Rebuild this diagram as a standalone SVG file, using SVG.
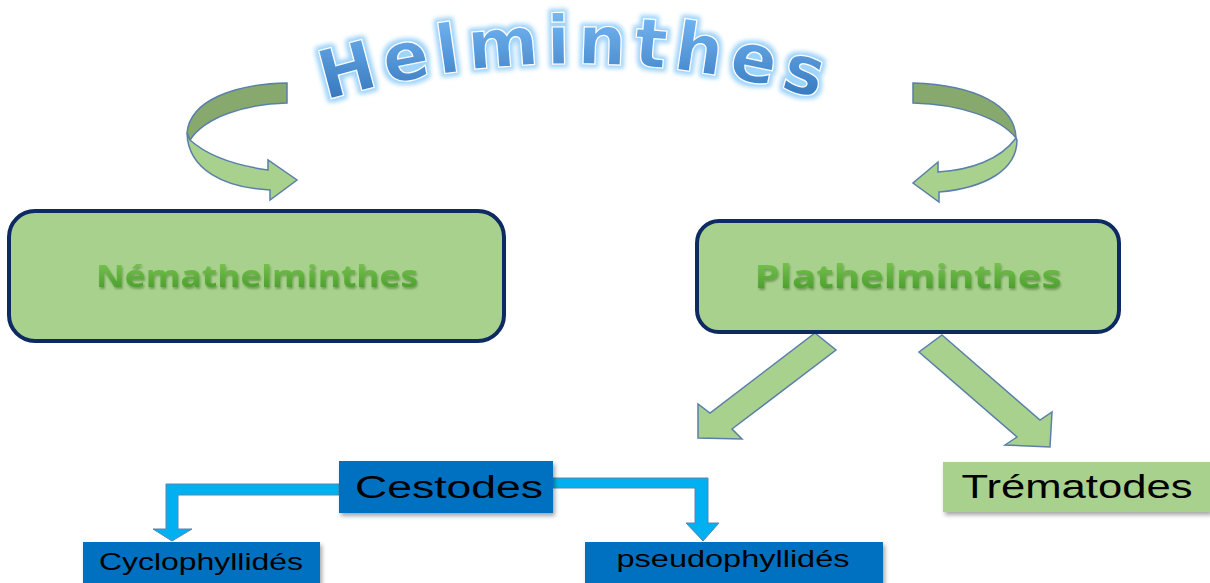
<svg xmlns="http://www.w3.org/2000/svg" width="1210" height="583" viewBox="0 0 1210 583">
<defs>
  <linearGradient id="titleGrad" x1="0" y1="0" x2="0" y2="1">
    <stop offset="0" stop-color="#7ec0fa"/>
    <stop offset="1" stop-color="#2a6cb4"/>
  </linearGradient>
  <linearGradient id="greenText" x1="0" y1="0" x2="0" y2="1">
    <stop offset="0" stop-color="#84cc5a"/>
    <stop offset="1" stop-color="#3f9523"/>
  </linearGradient>
  <filter id="glow" x="-20%" y="-60%" width="140%" height="220%">
    <feMorphology in="SourceAlpha" operator="dilate" radius="3" result="d"/>
    <feGaussianBlur in="d" stdDeviation="2" result="b"/>
    <feFlood flood-color="#9fd4fb" result="c"/>
    <feComposite in="c" in2="b" operator="in" result="g"/>
    <feMerge><feMergeNode in="g"/><feMergeNode in="SourceGraphic"/></feMerge>
  </filter>
  <filter id="shadow" x="-10%" y="-20%" width="125%" height="150%">
    <feDropShadow dx="2" dy="3" stdDeviation="2" flood-color="#000" flood-opacity="0.35"/>
  </filter>
  <filter id="tshadow" x="-5%" y="-20%" width="110%" height="150%">
    <feDropShadow dx="1" dy="2" stdDeviation="1" flood-color="#2d5a18" flood-opacity="0.45"/>
  </filter>
  <path id="arc" d="M 280 116 A 860 860 0 0 1 870 116"/>
</defs>
<style>
  .gbox { fill: #a9d18e; stroke: #0d2a62; stroke-width: 4; }
  .gtxt { font-family: "Open Sans", "Liberation Sans", sans-serif; font-weight: 700; fill: url(#greenText); text-anchor: middle; }
  .bbox { fill: #0070c0; }
  .lbox { fill: #a9d18e; }
  .btxt { font-family: "Liberation Sans", Arial, sans-serif; fill: #000; text-anchor: middle; }
  .garrow { fill: #a9d18e; stroke: #5a7fa8; stroke-width: 1.5; stroke-linejoin: miter; }
  .darrow { fill: #88a96d; stroke: #5a7fa8; stroke-width: 1.5; }
  .barrow { fill: #00b0f0; stroke: #5a84b0; stroke-width: 1; }
</style>

<g id="title">
  <text font-family="'DejaVu Sans', 'Liberation Sans', sans-serif" font-weight="700" font-size="68" letter-spacing="7" fill="url(#titleGrad)" stroke="#ffffff" stroke-width="1.2" filter="url(#glow)">
    <textPath href="#arc" startOffset="50%" text-anchor="middle">Helminthes</textPath>
  </text>
</g>

<g id="connectors">
  <!-- left curved arrow -->
  <path class="darrow" d="M 287 83 C 235 84 190 100 187 133 L 190 140 C 205 117 245 104 287 103 Z"/>
  <path class="garrow" d="M 190 140 C 210 158 240 166 268 170 L 268 160 L 297 180 L 270 200 L 270 190 C 225 188 188 170 187 133 Z"/>
  <!-- right curved arrow -->
  <path class="darrow" d="M 913 83 C 975 85 1015 105 1016 138 C 1000 118 960 104 913 103 Z"/>
  <path class="garrow" d="M 1016 138 C 1000 160 970 170 938 172 L 938 162 L 913 183 L 939 202 L 939 192 C 985 188 1017 170 1017 140 Z"/>
  <!-- diagonal arrows -->
  <polygon class="garrow" points="815,333 836,350 732,429 742,439 698,438 698,404 710,413"/>
  <polygon class="garrow" points="942,335 1040,420 1052,412 1050,447 1005,445 1017,437 919,352"/>
  <!-- elbow arrows -->
  <polygon class="barrow" points="339,484 166,484 166,529 153,529 172,541 192,529 178,529 178,495 339,495"/>
  <polygon class="barrow" points="553,478 708,478 708,523 719,523 703,541 686,523 695,523 695,488 553,488"/>
</g>

<g id="nemathelminthes">
  <rect class="gbox" x="9" y="211" width="495" height="130" rx="26" ry="26"/>
  <text class="gtxt" x="257" y="287" font-size="30" textLength="322" lengthAdjust="spacingAndGlyphs" filter="url(#tshadow)">Némathelminthes</text>
</g>

<g id="plathelminthes">
  <rect class="gbox" x="697" y="221" width="422" height="111" rx="22" ry="22"/>
  <text class="gtxt" x="908" y="288" font-size="32" textLength="307" lengthAdjust="spacingAndGlyphs" font-family="'Liberation Sans', Arial, sans-serif" filter="url(#tshadow)">Plathelminthes</text>
</g>

<g id="cestodes">
  <rect class="bbox" x="339" y="461" width="214" height="52" filter="url(#shadow)"/>
  <text class="btxt" x="449" y="498" font-size="31" textLength="188" lengthAdjust="spacingAndGlyphs">Cestodes</text>
</g>

<g id="trematodes">
  <rect class="lbox" x="943" y="462" width="267" height="50" filter="url(#shadow)"/>
  <text class="btxt" x="1077" y="498" font-size="33" textLength="231" lengthAdjust="spacingAndGlyphs">Trématodes</text>
</g>

<g id="cyclophyllides">
  <rect class="bbox" x="83" y="542" width="237" height="45" filter="url(#shadow)"/>
  <text class="btxt" x="201" y="570" font-size="24" textLength="204" lengthAdjust="spacingAndGlyphs">Cyclophyllidés</text>
</g>

<g id="pseudophyllides">
  <rect class="bbox" x="585" y="542" width="298" height="45" filter="url(#shadow)"/>
  <text class="btxt" x="733" y="567" font-size="24" textLength="233" lengthAdjust="spacingAndGlyphs">pseudophyllidés</text>
</g>
</svg>
